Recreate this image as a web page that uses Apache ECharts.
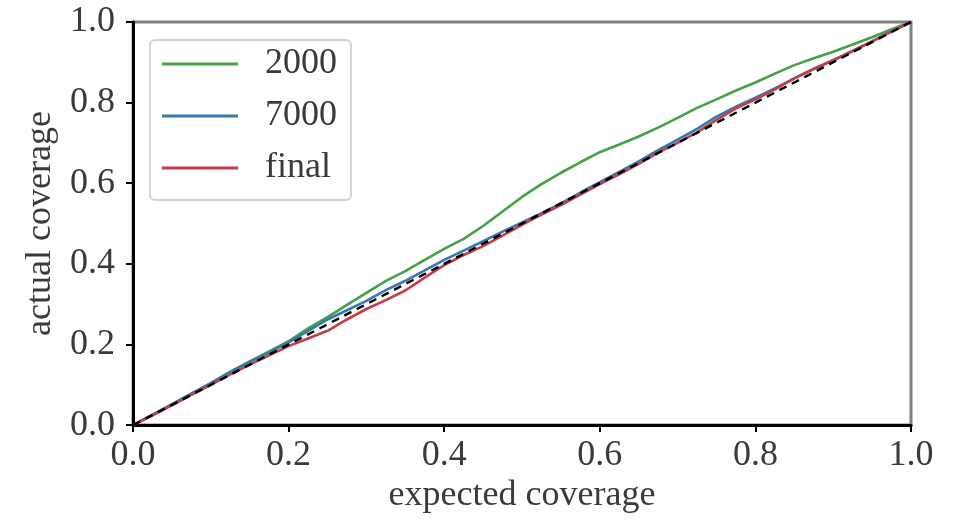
<!DOCTYPE html>
<html>
<head>
<meta charset="utf-8">
<script src="https://cdn.jsdelivr.net/npm/echarts@6/dist/echarts.min.js"></script>
<style>
  html, body { margin: 0; padding: 0; background: #fff; }
  #chart { width: 958px; height: 519px; }
</style>
</head>
<body>
<div id="chart"></div>
<script>
// Expected coverage levels (shared x values for every curve)
const expected = [0, 0.025, 0.05, 0.075, 0.1, 0.125, 0.15, 0.175, 0.2, 0.225, 0.25, 0.275, 0.3, 0.325, 0.35, 0.375, 0.4, 0.425, 0.45, 0.475, 0.5, 0.525, 0.55, 0.575, 0.6, 0.625, 0.65, 0.675, 0.7, 0.725, 0.75, 0.775, 0.8, 0.825, 0.85, 0.875, 0.9, 0.925, 0.95, 0.975, 1];

// Actual coverage after 2000 steps
const cov2000 = [0, 0.025, 0.051, 0.078, 0.104, 0.132, 0.158, 0.183, 0.208, 0.240, 0.268, 0.298, 0.328, 0.358, 0.382, 0.410, 0.437, 0.462, 0.494, 0.530, 0.566, 0.598, 0.626, 0.652, 0.677, 0.696, 0.716, 0.738, 0.762, 0.787, 0.808, 0.830, 0.850, 0.872, 0.893, 0.910, 0.926, 0.944, 0.962, 0.982, 1];

// Actual coverage after 7000 steps
const cov7000 = [0, 0.026, 0.052, 0.078, 0.104, 0.132, 0.157, 0.180, 0.205, 0.234, 0.262, 0.285, 0.308, 0.335, 0.358, 0.384, 0.410, 0.433, 0.456, 0.480, 0.503, 0.526, 0.550, 0.577, 0.603, 0.628, 0.654, 0.682, 0.708, 0.735, 0.765, 0.790, 0.812, 0.835, 0.860, 0.883, 0.905, 0.928, 0.952, 0.977, 1];

// Actual coverage of the final model
const covFinal = [0, 0.024, 0.049, 0.075, 0.100, 0.126, 0.150, 0.173, 0.196, 0.215, 0.234, 0.262, 0.288, 0.310, 0.334, 0.366, 0.397, 0.422, 0.444, 0.470, 0.497, 0.522, 0.546, 0.572, 0.598, 0.622, 0.648, 0.676, 0.700, 0.726, 0.757, 0.786, 0.808, 0.833, 0.860, 0.884, 0.905, 0.928, 0.952, 0.976, 1];

// Ideal calibration line
const idealX = [0, 1];
const idealY = [0, 1];

const seriesNames = ['2000', '7000', 'final'];
const seriesColors = ['#45a046', '#3479b0', '#c23d45'];

const pairs = (xs, ys) => xs.map((x, i) => [x, ys[i]]);

const FONT = '"Liberation Serif", "DejaVu Serif", serif';
const TEXT = '#3a3a3a';

const chart = echarts.init(document.getElementById('chart'), null, { renderer: 'canvas' });

const lineSeries = [cov2000, cov7000, covFinal].map((ys, i) => ({
  name: seriesNames[i],
  type: 'line',
  data: pairs(expected, ys),
  showSymbol: false,
  symbol: 'none',
  lineStyle: { color: seriesColors[i], width: 2.6 },
  itemStyle: { color: seriesColors[i] },
  animation: false,
  z: 2 + i
}));

lineSeries.push({
  name: 'ideal',
  type: 'line',
  data: pairs(idealX, idealY),
  showSymbol: false,
  symbol: 'none',
  lineStyle: { color: '#000', width: 2.4, type: [8, 6] },
  animation: false,
  silent: true,
  z: 6
});

chart.setOption({
  backgroundColor: '#fff',
  animation: false,
  grid: {
    left: 133, right: 47, top: 22, bottom: 93,
    show: true,
    borderColor: '#808080',
    borderWidth: 3,
    backgroundColor: 'transparent'
  },
  legend: {
    data: seriesNames,
    orient: 'vertical',
    left: 150,
    top: 40,
    icon: 'rect',
    itemWidth: 76,
    itemHeight: 3,
    itemGap: 16,
    padding: [6, 14, 14, 12],
    backgroundColor: '#fff',
    borderColor: '#d4d4d4',
    borderWidth: 2,
    borderRadius: 5,
    textStyle: {
      fontFamily: FONT,
      fontSize: 36,
      color: TEXT,
      lineHeight: 36,
      padding: [0, 0, 0, 22]
    }
  },
  xAxis: {
    type: 'value',
    min: 0, max: 1, interval: 0.2,
    name: 'expected coverage',
    nameLocation: 'middle',
    nameGap: 50,
    nameTextStyle: { fontFamily: FONT, fontSize: 36, color: TEXT },
    axisLine: { show: true, lineStyle: { color: '#000', width: 3 } },
    axisTick: { show: true, length: 7, lineStyle: { color: '#000', width: 2 } },
    axisLabel: {
      fontFamily: FONT, fontSize: 36, color: TEXT, margin: 12,
      formatter: v => v.toFixed(1)
    },
    splitLine: { show: false }
  },
  yAxis: {
    type: 'value',
    min: 0, max: 1, interval: 0.2,
    name: 'actual coverage',
    nameLocation: 'middle',
    nameGap: 74,
    nameRotate: 90,
    nameTextStyle: { fontFamily: FONT, fontSize: 36, color: TEXT },
    axisLine: { show: true, lineStyle: { color: '#000', width: 3 } },
    axisTick: { show: true, length: 7, lineStyle: { color: '#000', width: 2 } },
    axisLabel: {
      fontFamily: FONT, fontSize: 36, color: TEXT, margin: 18,
      formatter: v => v.toFixed(1)
    },
    splitLine: { show: false }
  },
  series: lineSeries
});
</script>
</body>
</html>
